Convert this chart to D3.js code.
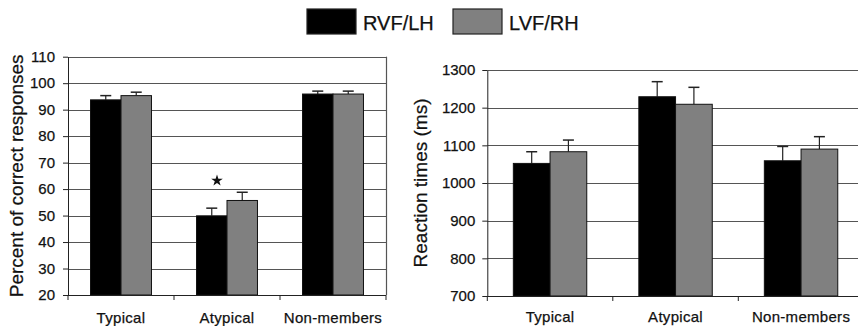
<!DOCTYPE html>
<meta charset="utf-8">
<style>
  body { margin: 0; background: #fff; }
  svg text { font-family: "Liberation Sans", Arial, sans-serif; fill: #111; stroke: #111; stroke-width: 0.25px; }
  .grid line { stroke: #555; stroke-width: 1.2; }
  .axis path, .axis line { stroke: #222; }
</style>
<script src="https://d3js.org/d3.v7.min.js"></script>
<div id="chart"></div>
<script>
// data
var categories = ["Typical", "Atypical", "Non-members"];
var seriesNames = ["RVF/LH", "LVF/RH"];
var seriesColors = ["#000000", "#808080"];

// percent correct, means and upper error (SE)
var accLH = [93.7, 49.9, 95.9];
var accLHErr = [1.6, 2.9, 1.1];
var accRH = [95.3, 55.7, 95.9];
var accRHErr = [1.3, 3.1, 1.1];
var accTicks = [20, 30, 40, 50, 60, 70, 80, 90, 100, 110];

// reaction times (ms)
var rtLH = [1052, 1229, 1059];
var rtLHErr = [31, 40, 38];
var rtRH = [1083, 1209, 1090];
var rtRHErr = [31, 45, 33];
var rtTicks = [700, 800, 900, 1000, 1100, 1200, 1300];

// significance marker (Atypical, accuracy)
var starAt = {cat: "Atypical", value: 63.2};

var svg = d3.select("#chart").append("svg")
    .attr("width", 858)
    .attr("height", 326);

function panel(opts) {
  var x = d3.scaleBand()
      .domain(categories)
      .range([opts.left, opts.right])
      .paddingInner(opts.pad)
      .paddingOuter(opts.pad / 2);
  var xs = d3.scaleBand()
      .domain(seriesNames)
      .range([0, x.bandwidth()]);
  var y = d3.scaleLinear()
      .domain(d3.extent(opts.ticks))
      .range([opts.bottom, opts.top]);

  var g = svg.append("g");

  // gridlines
  g.append("g").attr("class", "grid")
    .selectAll("line")
    .data(opts.ticks.slice(1))
    .join("line")
      .attr("x1", opts.left)
      .attr("x2", opts.right)
      .attr("y1", function(d) { return Math.round(y(d)) + 0.5; })
      .attr("y2", function(d) { return Math.round(y(d)) + 0.5; });

  if (opts.frame) {
    g.append("line")
      .attr("x1", opts.right + 0.5).attr("x2", opts.right + 0.5)
      .attr("y1", y(opts.ticks[opts.ticks.length - 1])).attr("y2", opts.bottom)
      .attr("stroke", "#555").attr("stroke-width", 1.2);
  }

  // bars
  var rows = categories.map(function(c, i) {
    return seriesNames.map(function(s, j) {
      return {cat: c, ser: s, j: j, v: opts.values[j][i], e: opts.errors[j][i]};
    });
  });
  var bars = g.selectAll(".grp")
    .data(rows)
    .join("g")
      .attr("transform", function(d) { return "translate(" + x(d[0].cat) + ",0)"; });

  var cell = bars.selectAll("g")
    .data(function(d) { return d; })
    .join("g");

  // error bars (upper only)
  cell.append("line")
      .attr("x1", function(d) { return xs(d.ser) + xs.bandwidth() / 2; })
      .attr("x2", function(d) { return xs(d.ser) + xs.bandwidth() / 2; })
      .attr("y1", function(d) { return y(d.v); })
      .attr("y2", function(d) { return y(d.v + d.e); })
      .attr("stroke", "#222").attr("stroke-width", 1.2);
  cell.append("line")
      .attr("x1", function(d) { return xs(d.ser) + xs.bandwidth() / 2 - 5.5; })
      .attr("x2", function(d) { return xs(d.ser) + xs.bandwidth() / 2 + 5.5; })
      .attr("y1", function(d) { return y(d.v + d.e); })
      .attr("y2", function(d) { return y(d.v + d.e); })
      .attr("stroke", "#222").attr("stroke-width", 1.5);

  cell.append("rect")
      .attr("x", function(d) { return xs(d.ser); })
      .attr("width", xs.bandwidth())
      .attr("y", function(d) { return y(d.v); })
      .attr("height", function(d) { return opts.bottom - y(d.v); })
      .attr("fill", function(d) { return seriesColors[d.j]; })
      .attr("stroke", "#111")
      .attr("stroke-width", 1);

  // y axis
  var ya = g.append("g").attr("class", "axis")
      .attr("transform", "translate(" + opts.left + ",0)")
      .call(d3.axisLeft(y).tickValues(opts.ticks).tickFormat(d3.format("d"))
        .tickSize(5).tickSizeOuter(0).tickPadding(opts.tickPad));
  ya.selectAll("text").style("font-size", "15px").attr("fill", "#111");

  // x axis line with boundary ticks
  g.append("line")
      .attr("x1", opts.left).attr("x2", opts.right)
      .attr("y1", opts.bottom + 0.5).attr("y2", opts.bottom + 0.5)
      .attr("stroke", "#222");
  var bounds = categories.map(function(c) { return x(c) - x.step() * x.paddingInner() / 2; });
  bounds.push(opts.right);
  g.selectAll(".xtick")
    .data(bounds)
    .join("line")
      .attr("x1", function(d) { return d; }).attr("x2", function(d) { return d; })
      .attr("y1", opts.bottom).attr("y2", opts.bottom + 5)
      .attr("stroke", "#222");
  g.selectAll(".xlab")
    .data(categories)
    .join("text")
      .attr("x", function(d) { return x(d) + x.bandwidth() / 2; })
      .attr("y", opts.labelY)
      .attr("text-anchor", "middle")
      .style("font-size", "15px")
      .style("letter-spacing", "0.3px")
      .text(function(d) { return d; });

  // y title
  g.append("text")
      .attr("transform", "translate(" + opts.titleX + "," + (opts.top + opts.bottom) / 2 + ") rotate(-90)")
      .attr("text-anchor", "middle")
      .attr("dy", "0.35em")
      .style("font-size", "19px")
      .text(opts.title);

  return {x: x, y: y, g: g};
}

var left = panel({
  left: 68, right: 386, top: 56.7, bottom: 295,
  pad: 0.425, ticks: accTicks, frame: true, tickPad: 8,
  values: [accLH, accRH], errors: [accLHErr, accRHErr],
  labelY: 323, titleX: 16, title: "Percent of correct responses"
});

var right = panel({
  left: 487.3, right: 863.8, top: 70, bottom: 296,
  pad: 0.415, ticks: rtTicks, frame: false, tickPad: 7,
  values: [rtLH, rtRH], errors: [rtLHErr, rtRHErr],
  labelY: 322, titleX: 420, title: "Reaction times (ms)"
});

// significance star
left.g.append("path")
    .attr("d", d3.symbol().type(d3.symbolStar).size(42))
    .attr("transform", "translate(" + (left.x(starAt.cat) + left.x.bandwidth() / 2 - 10) + "," + left.y(starAt.value) + ")")
    .attr("fill", "#111");

// legend
var legendX = [307, 453];
var legend = svg.append("g");
var li = legend.selectAll("g")
  .data(seriesNames)
  .join("g")
    .attr("transform", function(d, i) { return "translate(" + legendX[i] + ",9)"; });
li.append("rect")
    .attr("width", 49).attr("height", 25)
    .attr("fill", function(d, i) { return seriesColors[i]; })
    .attr("stroke", "#222").attr("stroke-width", 1.2);
li.append("text")
    .attr("x", 56).attr("y", 21)
    .style("font-size", "20px")
    .text(function(d) { return d; });
</script>
